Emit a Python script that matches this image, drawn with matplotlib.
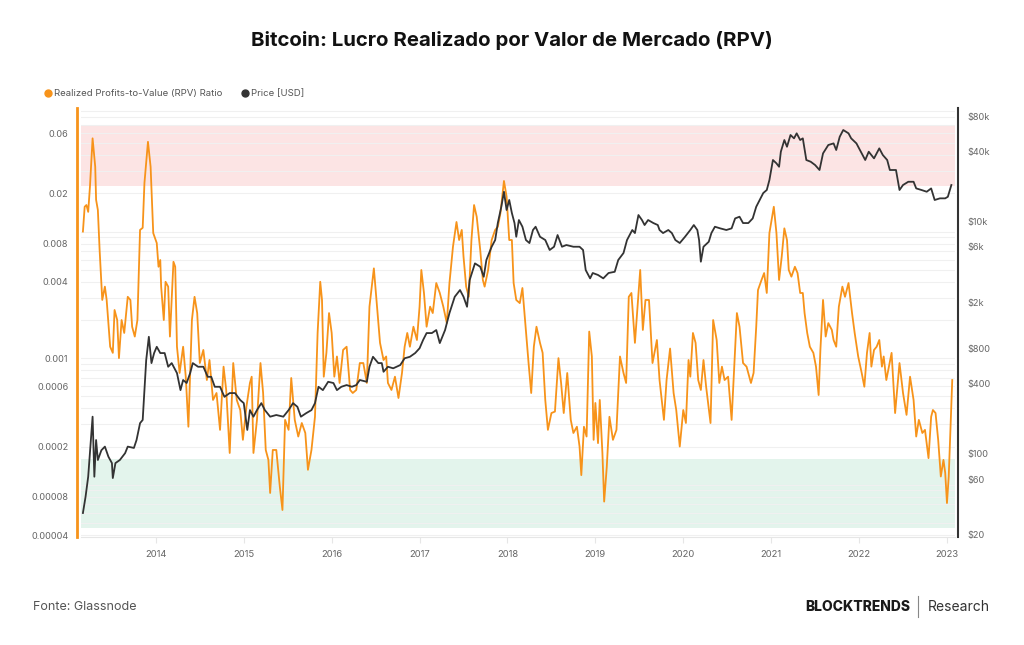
import matplotlib

matplotlib.use("Agg")
import matplotlib.pyplot as plt
import numpy as np
from matplotlib.lines import Line2D
from matplotlib.ticker import FixedLocator, LogLocator, NullFormatter

plt.rcParams["font.family"] = ["Inter", "DejaVu Sans"]

# .. (decimal years).
rpv_dates = [
    2013.17, 2013.19, 2013.21, 2013.23, 2013.25, 2013.28, 2013.31, 2013.32, 2013.34, 2013.36,
    2013.39, 2013.42, 2013.44, 2013.48, 2013.51, 2013.53, 2013.56, 2013.58, 2013.61, 2013.64,
    2013.68, 2013.71, 2013.73, 2013.76, 2013.79, 2013.82, 2013.85, 2013.87, 2013.91, 2013.94,
    2013.97, 2014.01, 2014.03, 2014.05, 2014.06, 2014.09, 2014.11, 2014.14, 2014.16, 2014.20,
    2014.22, 2014.24, 2014.27, 2014.31, 2014.34, 2014.37, 2014.41, 2014.44, 2014.47, 2014.50,
    2014.54, 2014.58, 2014.61, 2014.65, 2014.69, 2014.73, 2014.77, 2014.80, 2014.84, 2014.88,
    2014.92, 2014.96, 2014.99, 2015.03, 2015.07, 2015.09, 2015.11, 2015.15, 2015.19, 2015.22,
    2015.25, 2015.28, 2015.30, 2015.33, 2015.37, 2015.41, 2015.44, 2015.47, 2015.51, 2015.54,
    2015.58, 2015.62, 2015.66, 2015.70, 2015.73, 2015.77, 2015.81, 2015.84, 2015.87, 2015.89,
    2015.91, 2015.94, 2015.97, 2016.00, 2016.03, 2016.06, 2016.09, 2016.13, 2016.17, 2016.21,
    2016.24, 2016.28, 2016.32, 2016.36, 2016.40, 2016.43, 2016.48, 2016.51, 2016.55, 2016.59,
    2016.62, 2016.64, 2016.68, 2016.72, 2016.76, 2016.80, 2016.83, 2016.86, 2016.89, 2016.93,
    2016.97, 2017.00, 2017.02, 2017.05, 2017.08, 2017.12, 2017.15, 2017.19, 2017.23, 2017.27,
    2017.31, 2017.34, 2017.38, 2017.42, 2017.45, 2017.48, 2017.50, 2017.53, 2017.56, 2017.59,
    2017.62, 2017.65, 2017.69, 2017.72, 2017.74, 2017.78, 2017.82, 2017.86, 2017.89, 2017.92,
    2017.96, 2017.99, 2018.02, 2018.05, 2018.07, 2018.10, 2018.14, 2018.17, 2018.20, 2018.24,
    2018.27, 2018.30, 2018.33, 2018.37, 2018.40, 2018.43, 2018.46, 2018.50, 2018.54, 2018.58,
    2018.61, 2018.64, 2018.68, 2018.72, 2018.75, 2018.79, 2018.82, 2018.84, 2018.87, 2018.90,
    2018.93, 2018.96, 2018.98, 2019.00, 2019.03, 2019.05, 2019.08, 2019.10, 2019.13, 2019.16,
    2019.20, 2019.24, 2019.28, 2019.32, 2019.35, 2019.38, 2019.41, 2019.45, 2019.51, 2019.54,
    2019.57, 2019.61, 2019.65, 2019.70, 2019.73, 2019.78, 2019.81, 2019.85, 2019.89, 2019.92,
    2019.96, 2020.00, 2020.03, 2020.06, 2020.08, 2020.11, 2020.14, 2020.17, 2020.20, 2020.23,
    2020.26, 2020.31, 2020.34, 2020.38, 2020.41, 2020.44, 2020.47, 2020.51, 2020.55, 2020.58,
    2020.61, 2020.64, 2020.68, 2020.72, 2020.77, 2020.80, 2020.83, 2020.85, 2020.89, 2020.92,
    2020.95, 2020.98, 2021.03, 2021.06, 2021.09, 2021.12, 2021.15, 2021.18, 2021.20, 2021.23,
    2021.27, 2021.30, 2021.33, 2021.36, 2021.38, 2021.41, 2021.44, 2021.48, 2021.51, 2021.54,
    2021.56, 2021.59, 2021.62, 2021.65, 2021.69, 2021.71, 2021.74, 2021.77, 2021.81, 2021.84,
    2021.88, 2021.92, 2021.95, 2021.99, 2022.03, 2022.06, 2022.09, 2022.12, 2022.14, 2022.17,
    2022.20, 2022.23, 2022.26, 2022.28, 2022.31, 2022.34, 2022.37, 2022.41, 2022.43, 2022.46,
    2022.50, 2022.54, 2022.58, 2022.62, 2022.65, 2022.68, 2022.72, 2022.75, 2022.79, 2022.82,
    2022.84, 2022.87, 2022.90, 2022.93, 2022.96, 2022.98, 2023.00, 2023.02, 2023.06,
]
rpv_values = [
    0.0100, 0.0157, 0.0162, 0.0143, 0.0226, 0.0545, 0.0325, 0.0178, 0.0148, 0.00715,
    0.00288, 0.00367, 0.00288, 0.00123, 0.00110, 0.00240, 0.00200, 0.00100, 0.00200, 0.00158,
    0.00305, 0.00288, 0.00177, 0.00148, 0.00200, 0.0103, 0.0107, 0.0242, 0.0512, 0.0325,
    0.00973, 0.00811, 0.00527, 0.00596, 0.00367, 0.00200, 0.00401, 0.00367, 0.00148, 0.00577,
    0.00527, 0.00123, 0.000763, 0.00123, 0.000713, 0.000287, 0.00200, 0.00305, 0.00227, 0.000914,
    0.00116, 0.000671, 0.000966, 0.000467, 0.000530, 0.000271, 0.000856, 0.000560, 0.000178, 0.000914,
    0.000467, 0.000389, 0.000226, 0.000413, 0.000636, 0.000713, 0.000178, 0.000325, 0.000914, 0.000530,
    0.000188, 0.000157, 0.0000860, 0.000188, 0.000188, 0.0000965, 0.0000631, 0.000325, 0.000271, 0.000696,
    0.000325, 0.000240, 0.000307, 0.000256, 0.000131, 0.000188, 0.000344, 0.00158, 0.00401, 0.00288,
    0.000713, 0.00110, 0.00227, 0.00158, 0.000713, 0.00103, 0.000636, 0.00116, 0.00123, 0.000560,
    0.000530, 0.000560, 0.000914, 0.000914, 0.000636, 0.00255, 0.00512, 0.00288, 0.00132, 0.000966,
    0.00103, 0.000636, 0.000560, 0.000713, 0.000484, 0.000763, 0.00123, 0.00158, 0.00123, 0.00177,
    0.00139, 0.00255, 0.00497, 0.00327, 0.00177, 0.00255, 0.00227, 0.00392, 0.00327, 0.00255,
    0.00189, 0.00392, 0.00759, 0.0119, 0.00857, 0.0103, 0.00633, 0.00367, 0.00305, 0.00857,
    0.0162, 0.0131, 0.00715, 0.00414, 0.00367, 0.00497, 0.00857, 0.0103, 0.0109, 0.0140,
    0.0251, 0.0189, 0.00857, 0.00857, 0.00392, 0.00288, 0.00272, 0.00358, 0.00200, 0.000914,
    0.000530, 0.00123, 0.00177, 0.00132, 0.00110, 0.000467, 0.000271, 0.000368, 0.000378, 0.00100,
    0.000636, 0.000368, 0.000763, 0.000325, 0.000256, 0.000287, 0.000200, 0.000119, 0.000287, 0.000240,
    0.00162, 0.00103, 0.000226, 0.000442, 0.000213, 0.000467, 0.000178, 0.0000735, 0.000139, 0.000344,
    0.000226, 0.000271, 0.00103, 0.000763, 0.000636, 0.00305, 0.00327, 0.00132, 0.00497, 0.00167,
    0.00288, 0.00288, 0.000914, 0.00139, 0.000671, 0.000325, 0.000671, 0.00119, 0.000530, 0.000389,
    0.000200, 0.000389, 0.000307, 0.000966, 0.000713, 0.00158, 0.00132, 0.000671, 0.000560, 0.000966,
    0.000594, 0.000307, 0.00200, 0.00139, 0.000636, 0.000856, 0.000671, 0.000713, 0.000325, 0.000856,
    0.00227, 0.00177, 0.000914, 0.000856, 0.000636, 0.000763, 0.00177, 0.00345, 0.00414, 0.00470,
    0.00327, 0.00973, 0.0157, 0.00973, 0.00414, 0.00633, 0.0106, 0.00857, 0.00497, 0.00440,
    0.00527, 0.00470, 0.00327, 0.00327, 0.00227, 0.00158, 0.00123, 0.00110, 0.000856, 0.000511,
    0.00116, 0.00288, 0.00148, 0.00189, 0.00167, 0.00139, 0.00123, 0.00255, 0.00367, 0.00305,
    0.00392, 0.00227, 0.00158, 0.00103, 0.000763, 0.000594, 0.00110, 0.00158, 0.000856, 0.00116,
    0.00123, 0.00139, 0.000856, 0.00103, 0.000671, 0.000856, 0.00110, 0.000368, 0.000530, 0.000914,
    0.000530, 0.000356, 0.000713, 0.000467, 0.000240, 0.000325, 0.000256, 0.000271, 0.000162, 0.000344,
    0.000389, 0.000368, 0.000226, 0.000116, 0.000157, 0.000124, 0.0000716, 0.000116, 0.000671,
]

price_dates = [
    2013.17, 2013.20, 2013.23, 2013.25, 2013.28, 2013.30, 2013.32, 2013.34, 2013.38, 2013.42,
    2013.46, 2013.50, 2013.51, 2013.54, 2013.59, 2013.65, 2013.68, 2013.75, 2013.78, 2013.82,
    2013.85, 2013.87, 2013.89, 2013.92, 2013.95, 2013.98, 2014.01, 2014.05, 2014.10, 2014.14,
    2014.18, 2014.24, 2014.28, 2014.31, 2014.35, 2014.39, 2014.42, 2014.48, 2014.54, 2014.59,
    2014.63, 2014.67, 2014.73, 2014.78, 2014.84, 2014.90, 2014.96, 2015.00, 2015.04, 2015.07,
    2015.11, 2015.15, 2015.20, 2015.24, 2015.30, 2015.37, 2015.45, 2015.51, 2015.56, 2015.61,
    2015.65, 2015.71, 2015.77, 2015.81, 2015.85, 2015.90, 2015.96, 2016.02, 2016.06, 2016.11,
    2016.17, 2016.23, 2016.28, 2016.32, 2016.40, 2016.43, 2016.47, 2016.53, 2016.57, 2016.59,
    2016.64, 2016.70, 2016.78, 2016.83, 2016.89, 2016.95, 2017.00, 2017.04, 2017.08, 2017.14,
    2017.19, 2017.23, 2017.29, 2017.34, 2017.40, 2017.46, 2017.50, 2017.54, 2017.57, 2017.63,
    2017.69, 2017.73, 2017.76, 2017.82, 2017.86, 2017.89, 2017.93, 2017.96, 2017.99, 2018.02,
    2018.05, 2018.08, 2018.10, 2018.13, 2018.17, 2018.21, 2018.25, 2018.29, 2018.32, 2018.37,
    2018.43, 2018.48, 2018.53, 2018.57, 2018.62, 2018.67, 2018.75, 2018.82, 2018.86, 2018.89,
    2018.94, 2018.97, 2019.03, 2019.09, 2019.15, 2019.22, 2019.26, 2019.32, 2019.36, 2019.42,
    2019.45, 2019.49, 2019.53, 2019.56, 2019.60, 2019.66, 2019.71, 2019.73, 2019.77, 2019.83,
    2019.87, 2019.91, 2019.96, 2020.02, 2020.08, 2020.12, 2020.16, 2020.18, 2020.20, 2020.23,
    2020.29, 2020.32, 2020.36, 2020.42, 2020.49, 2020.55, 2020.59, 2020.64, 2020.68, 2020.74,
    2020.79, 2020.83, 2020.87, 2020.91, 2020.95, 2020.98, 2021.02, 2021.06, 2021.09, 2021.11,
    2021.15, 2021.18, 2021.22, 2021.26, 2021.29, 2021.33, 2021.36, 2021.40, 2021.45, 2021.50,
    2021.55, 2021.59, 2021.65, 2021.71, 2021.74, 2021.78, 2021.82, 2021.88, 2021.91, 2021.97,
    2022.02, 2022.07, 2022.11, 2022.17, 2022.23, 2022.27, 2022.32, 2022.35, 2022.42, 2022.46,
    2022.50, 2022.56, 2022.62, 2022.65, 2022.71, 2022.77, 2022.82, 2022.86, 2022.92, 2022.98,
    2023.01, 2023.05,
]
price_values = [
    30.9, 42.6, 63.4, 101, 208, 63.4, 131, 88.2, 107, 115,
    94.2, 83.0, 61.7, 83.0, 88.2, 101, 115, 112, 131, 183,
    195, 352, 638, 1012, 601, 733, 830, 733, 733, 559,
    601, 493, 352, 430, 405, 493, 601, 559, 559, 458,
    458, 376, 376, 308, 332, 332, 289, 272, 160, 237,
    208, 237, 272, 237, 208, 215, 208, 237, 272, 253,
    208, 223, 237, 272, 376, 352, 415, 405, 352, 376,
    389, 376, 389, 430, 415, 559, 681, 601, 601, 506,
    559, 542, 578, 661, 681, 733, 806, 949, 1089, 1089,
    1156, 893, 1156, 1618, 2234, 2552, 2234, 1833, 3112, 4328,
    4048, 3320, 4624, 6016, 6872, 9616, 13280, 17870, 12450, 15180,
    11730, 9616, 7330, 10210, 8940, 6872, 6472, 8380, 8940, 7330,
    6872, 5640, 6016, 7584, 6016, 6224, 6016, 6016, 5640, 3792,
    3216, 3576, 3440, 3216, 3576, 3664, 4624, 5312, 6872, 8380,
    7888, 11270, 10210, 9248, 10210, 9616, 9248, 8380, 7888, 8380,
    7888, 6872, 6472, 7330, 8380, 9248, 8380, 6872, 4472, 6016,
    6640, 7888, 8940, 8656, 8380, 8656, 10540, 10900, 9616, 9616,
    10540, 13280, 15180, 17420, 18500, 22540, 33500, 31360, 29310, 39460,
    49760, 43560, 54960, 51440, 56800, 49760, 51440, 33500, 32370, 30320,
    27490, 38200, 45090, 46560, 40840, 53100, 60690, 56800, 51440, 46560,
    39460, 33500, 39460, 34600, 42180, 36990, 33500, 27490, 27490, 18500,
    20420, 21780, 21780, 19100, 18500, 17870, 19100, 15180, 15680, 15680,
    16180, 20420,
]

# .. Zones and ticks.
red_zone = [0.023, 0.068]
green_zone = [0.0000455, 0.00016]
rpv_ticks = [0.06, 0.02, 0.008, 0.004, 0.001, 0.0006, 0.0002, 0.00008, 0.00004]
rpv_tick_labels = ["0.06", "0.02", "0.008", "0.004", "0.001", "0.0006",
                   "0.0002", "0.00008", "0.00004"]
price_ticks = [80000, 40000, 10000, 6000, 2000, 800, 400, 100, 60, 20]
price_tick_labels = ["$80k", "$40k", "$10k", "$6k", "$2k", "$800", "$400",
                     "$100", "$60", "$20"]
years = list(range(2014, 2024))

ORANGE = "#f7931a"
DARK = "#333333"
GREY = "#666666"

fig = plt.figure(figsize=(10.24, 6.45), dpi=100)
ax = fig.add_axes([0.079, 0.1674, 0.8535, 0.6651])
ax2 = ax.twinx()

# .. Bands.
ax.axhspan(red_zone[0], red_zone[1], color="#fce4e4", lw=0, zorder=0)
ax.axhspan(green_zone[0], green_zone[1], color="#e3f4ec", lw=0, zorder=0)

# .. Lines.
ax.plot(rpv_dates, rpv_values, color=ORANGE, lw=1.3, zorder=3)
ax2.plot(price_dates, price_values, color=DARK, lw=1.3, zorder=3)

ax.set_yscale("log")
ax2.set_yscale("log")
ax.set_xlim(2013.147, 2023.09)
ax.set_ylim(3.857e-5, 0.0946)
ax2.set_ylim(19.2, 93740)

ax.yaxis.set_major_locator(FixedLocator(rpv_ticks))
ax.set_yticklabels(rpv_tick_labels)
ax.yaxis.set_minor_locator(LogLocator(base=10, subs=np.arange(1, 10)))
ax.yaxis.set_minor_formatter(NullFormatter())
ax2.yaxis.set_major_locator(FixedLocator(price_ticks))
ax2.set_yticklabels(price_tick_labels)
ax2.yaxis.set_minor_locator(FixedLocator([]))

ax.set_xticks(years)
ax.set_xticklabels([str(y) for y in years])

ax.grid(True, which="both", axis="y", color="#f0f0f0", lw=0.8)
ax.set_axisbelow(True)

ax.tick_params(axis="y", which="both", length=0, labelsize=6.6,
               labelcolor=GREY, pad=6)
ax2.tick_params(axis="y", which="both", length=0, labelsize=6.6,
                labelcolor=GREY, pad=7)
ax.tick_params(axis="x", length=4, color="#e6e6e6", labelsize=6.8,
               labelcolor=GREY, pad=5)

for a in (ax, ax2):
    for side in ("top", "left", "right", "bottom"):
        a.spines[side].set_visible(False)
ax.spines["bottom"].set_visible(True)
ax.spines["bottom"].set_color("#e6e6e6")
ax.spines["left"].set_visible(True)
ax.spines["left"].set_color(ORANGE)
ax.spines["left"].set_linewidth(2)
ax.spines["left"].set_position(("outward", 3))
ax2.spines["right"].set_visible(True)
ax2.spines["right"].set_color(DARK)
ax2.spines["right"].set_linewidth(1.5)
ax2.spines["right"].set_position(("outward", 2))

# .. Legend.
handles = [
    Line2D([], [], ls="", marker="o", ms=5, color=ORANGE),
    Line2D([], [], ls="", marker="o", ms=5, color=DARK),
]
fig.legend(handles, ["Realized Profits-to-Value (RPV) Ratio", "Price [USD]"],
           loc="center left", bbox_to_anchor=(0.034, 0.855), ncol=2,
           frameon=False, fontsize=6.9, labelcolor="#555555",
           handletextpad=0.1, columnspacing=1.9, handlelength=1.0)

# .. Title and footer.
fig.text(0.5, 0.937, "Bitcoin: Lucro Realizado por Valor de Mercado (RPV)",
         ha="center", va="center", fontsize=14.7, fontweight="bold",
         color="#111111")
fig.text(0.032, 0.059, "Fonte: Glassnode", ha="left", va="center",
         fontsize=9, color="#555555")
fig.text(0.889, 0.059, "BLOCKTRENDS", ha="right", va="center",
         fontsize=10, fontweight="heavy", color="#1a1a1a")
fig.add_artist(Line2D([0.8965, 0.8965], [0.043, 0.076], color="#888888",
                      lw=0.8, transform=fig.transFigure))
fig.text(0.906, 0.059, "Research", ha="left", va="center", fontsize=10,
         color="#333333")

fig.savefig("out.png", dpi=100)
